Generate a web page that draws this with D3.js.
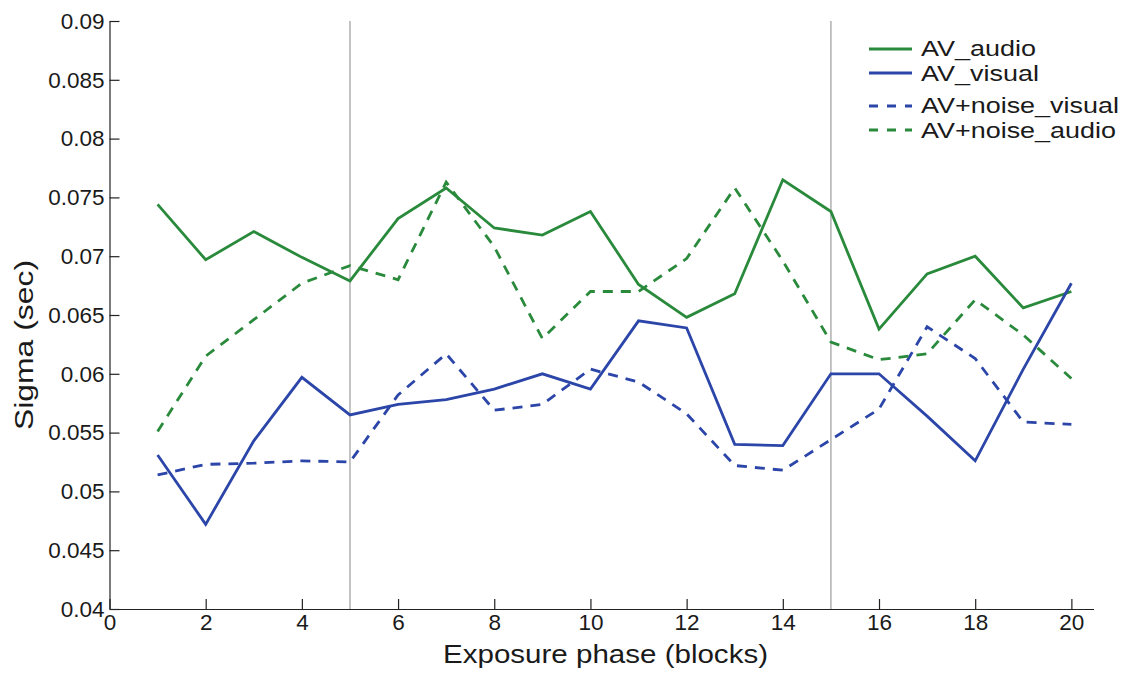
<!DOCTYPE html>
<html>
<head>
<meta charset="utf-8">
<script src="https://cdn.jsdelivr.net/npm/d3@7"></script>
<style>
  html, body { margin: 0; padding: 0; background: #fff; }
  svg { display: block; font-family: "Liberation Sans", Arial, Helvetica, sans-serif; }
</style>
</head>
<body>
<svg id="chart" width="1128" height="673"></svg>
<script>
// Exposure blocks
const blocks = [1, 2, 3, 4, 5, 6, 7, 8, 9, 10, 11, 12, 13, 14, 15, 16, 17, 18, 19, 20];

// Sigma (sec) per block for each condition
const avAudio = [0.0744, 0.0697, 0.0721, 0.0699, 0.0679, 0.0732, 0.0758, 0.0724, 0.0718, 0.0738,
                 0.0676, 0.0648, 0.0668, 0.0765, 0.0738, 0.0638, 0.0685, 0.0700, 0.0656, 0.0670];
const avVisual = [0.0531, 0.0472, 0.0543, 0.0597, 0.0565, 0.0574, 0.0578, 0.0587, 0.0600, 0.0587,
                  0.0645, 0.0639, 0.0540, 0.0539, 0.0600, 0.0600, 0.0564, 0.0526, 0.0604, 0.0677];
const noiseVisual = [0.0514, 0.0523, 0.0524, 0.0526, 0.0525, 0.0582, 0.0617, 0.0569, 0.0574, 0.0604,
                     0.0593, 0.0566, 0.0522, 0.0518, 0.0544, 0.0570, 0.0640, 0.0613, 0.0559, 0.0557];
const noiseAudio = [0.0551, 0.0615, 0.0646, 0.0677, 0.0692, 0.0680, 0.0763, 0.0708, 0.0630, 0.0670,
                    0.0670, 0.0698, 0.0758, 0.0696, 0.0627, 0.0612, 0.0617, 0.0663, 0.0633, 0.0596];

// Phase boundaries (blocks)
const phaseBreaks = [5, 15];

// Axis ticks
const xTicks = [0, 2, 4, 6, 8, 10, 12, 14, 16, 18, 20];
const yTicks = [0.04, 0.045, 0.05, 0.055, 0.06, 0.065, 0.07, 0.075, 0.08, 0.085, 0.09];
const yTickLabels = ["0.04", "0.045", "0.05", "0.055", "0.06", "0.065", "0.07", "0.075", "0.08", "0.085", "0.09"];

const GREEN = "#2a8a3c";
const BLUE = "#2b45a8";

const series = [
  { name: "AV_audio", values: avAudio, color: GREEN, dash: null },
  { name: "AV_visual", values: avVisual, color: BLUE, dash: null },
  { name: "AV+noise_visual", values: noiseVisual, color: BLUE, dash: "10,8" },
  { name: "AV+noise_audio", values: noiseAudio, color: GREEN, dash: "10,8" }
];

const svg = d3.select("#chart");

const x = d3.scaleLinear().domain([0, 20.46]).range([109.5, 1093.5]);
const y = d3.scaleLinear().domain([0.04, 0.09]).range([609, 21]);

// Phase boundary lines
svg.append("g")
  .selectAll("line")
  .data(phaseBreaks)
  .join("line")
  .attr("x1", d => x(d)).attr("x2", d => x(d))
  .attr("y1", y(0.09)).attr("y2", y(0.04))
  .attr("stroke", "#b5b5b5")
  .attr("stroke-width", 1.6);

// Axes
const xAxis = d3.axisBottom(x)
  .tickValues(xTicks)
  .tickFormat(d3.format("d"))
  .tickSizeInner(-10)
  .tickSizeOuter(0)
  .tickPadding(5);

const yAxis = d3.axisLeft(y)
  .tickValues(yTicks)
  .tickFormat((d, i) => yTickLabels[i])
  .tickSizeInner(-10)
  .tickSizeOuter(0)
  .tickPadding(5);

const gx = svg.append("g").attr("transform", `translate(0,${y(0.04)})`).call(xAxis);
const gy = svg.append("g").attr("transform", `translate(${x(0)},0)`).call(yAxis);

[gx, gy].forEach(g => {
  g.selectAll("path.domain").attr("stroke", "#222").attr("stroke-width", 1.2);
  g.selectAll(".tick line").attr("stroke", "#222").attr("stroke-width", 1.2);
  g.selectAll(".tick text")
    .attr("fill", "#1a1a1a")
    .style("font-size", "22.5px")
    .style("font-family", "\"Liberation Sans\", Arial, Helvetica, sans-serif");
});

// Series lines
const line = d3.line()
  .x((d, i) => x(blocks[i]))
  .y(d => y(d));

svg.append("g")
  .selectAll("path")
  .data(series)
  .join("path")
  .attr("d", d => line(d.values))
  .attr("fill", "none")
  .attr("stroke", d => d.color)
  .attr("stroke-width", 2.8)
  .attr("stroke-linejoin", "miter")
  .attr("stroke-dasharray", d => d.dash);

// Axis titles
svg.append("text")
  .attr("x", 605.5)
  .attr("y", 663)
  .attr("text-anchor", "middle")
  .attr("fill", "#1a1a1a")
  .attr("font-size", 26)
  .attr("textLength", 325)
  .attr("lengthAdjust", "spacingAndGlyphs")
  .text("Exposure phase (blocks)");

svg.append("text")
  .attr("transform", "translate(33,345) rotate(-90)")
  .attr("text-anchor", "middle")
  .attr("fill", "#1a1a1a")
  .attr("font-size", 26)
  .attr("textLength", 170)
  .attr("lengthAdjust", "spacingAndGlyphs")
  .text("Sigma (sec)");

// Legend
const legendRows = [
  { s: series[0], ly: 49, ty: 56, w: 115 },
  { s: series[1], ly: 73, ty: 81, w: 118 },
  { s: series[2], ly: 106, ty: 113, w: 198 },
  { s: series[3], ly: 130, ty: 138, w: 195 }
];

const legend = svg.append("g");
const rows = legend.selectAll("g").data(legendRows).join("g");
rows.append("line")
  .attr("x1", 869).attr("x2", 912)
  .attr("y1", d => d.ly).attr("y2", d => d.ly)
  .attr("stroke", d => d.s.color)
  .attr("stroke-width", 2.8)
  .attr("stroke-dasharray", d => d.s.dash ? "9,9" : null);
rows.append("text")
  .attr("x", 921)
  .attr("y", d => d.ty)
  .attr("fill", "#1a1a1a")
  .attr("font-size", 22)
  .attr("textLength", d => d.w)
  .attr("lengthAdjust", "spacingAndGlyphs")
  .text(d => d.s.name);
</script>
</body>
</html>
